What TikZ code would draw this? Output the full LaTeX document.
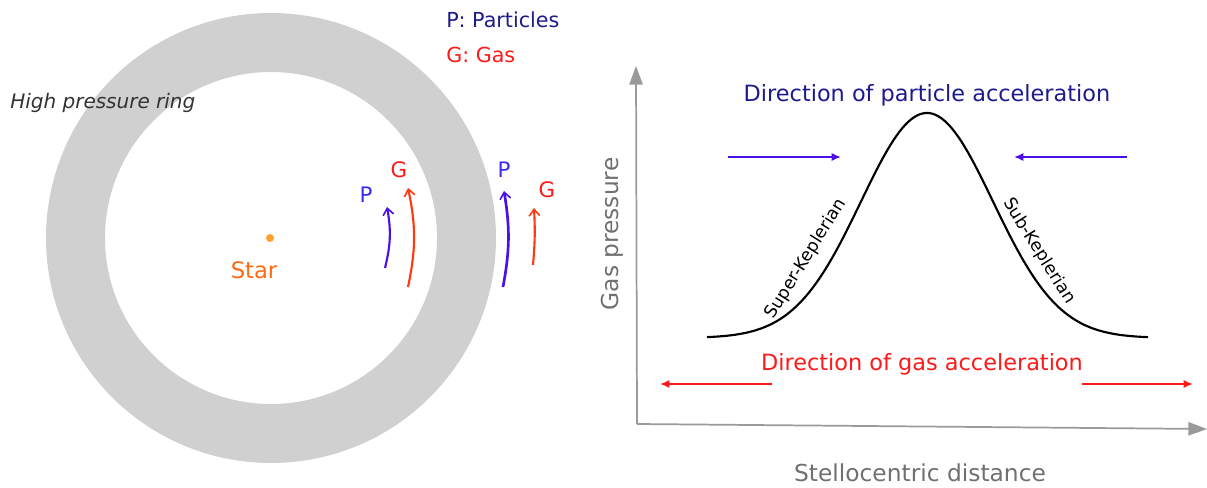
\documentclass[tikz,border=0pt]{standalone}
\usepackage{fontspec}
\setmainfont{DejaVu Sans}
\usetikzlibrary{arrows.meta}
\definecolor{ringgray}{HTML}{D0D0D0}
\definecolor{navy}{HTML}{1E1A8C}
\definecolor{pblue}{HTML}{3A2CF0}
\definecolor{ablue}{HTML}{4A10E8}
\definecolor{gred}{HTML}{FF1A1A}
\definecolor{ared}{HTML}{FF3A10}
\definecolor{starorange}{HTML}{FF6A10}
\definecolor{dotorange}{HTML}{FFA030}
\definecolor{axisgray}{HTML}{9A9A9A}
\definecolor{labelgray}{HTML}{707070}
\definecolor{ringtext}{HTML}{333333}
\tikzset{
  lbl/.style={inner sep=0pt, font=\fontsize{#1}{#1}\selectfont},
  curvearrow/.style={line width=1.6pt, -{Straight Barb[length=5pt,width=8pt,line width=1.2pt]}},
  flatarrow/.style={line width=1.2pt, -{Latex[length=7pt,width=6pt]}},
  axisline/.style={axisgray, line width=1.3pt, -{Triangle[length=14pt,width=10pt]}},
}
\begin{document}
\begin{tikzpicture}[x=0.75pt,y=-0.75pt]
\useasboundingbox (0,0) rectangle (1207,488);
% ring
\fill[ringgray, even odd rule] (271,238) circle[radius=225] (271,238) circle[radius=166];
\fill[dotorange] (270,238) circle[radius=4];
\node[lbl=17, text=starorange] (star) at (254,270) {Star};
\node[lbl=15, text=ringtext, anchor=west, font=\fontsize{15}{15}\selectfont\itshape] (ring) at (10,103) {High pressure ring};
\node[lbl=15.5, text=navy, anchor=west] (legP) at (446,20) {P: Particles};
\node[lbl=15.5, text=gred, anchor=west] (legG) at (446,55) {G: Gas};
% inner arrows
\coordinate (ibs) at (385,268); \coordinate (ibe) at (387,207);
\coordinate (irs) at (408,287); \coordinate (ire) at (408,188);
\coordinate (obs) at (503,287); \coordinate (obe) at (504,191);
\coordinate (ors) at (533,265); \coordinate (ore) at (534,208);
\draw[curvearrow, ablue] (ibs) to[bend right=12] (ibe);
\draw[curvearrow, ared] (irs) to[bend right=12] (ire);
\draw[curvearrow, ablue, line width=2pt] (obs) to[bend right=10] (obe);
\draw[curvearrow, ared] (ors) to[bend right=4] (ore);
\node[lbl=16, text=pblue] (pin) at (366,195) {P};
\node[lbl=16, text=gred] (gin) at (399,170) {G};
\node[lbl=16, text=pblue] (pout) at (504,170) {P};
\node[lbl=16, text=gred] (gout) at (547,190) {G};
% axes
\coordinate (origin) at (637,424);
\coordinate (ytip) at (636,66);
\coordinate (xtip) at (1207,429);
\draw[axisline] (origin) -- (ytip);
\draw[axisline] (origin) -- (xtip);
\node[lbl=17.5, text=labelgray, rotate=90] (ylab) at (612,234) {Gas pressure};
\node[lbl=17.5, text=labelgray] (xlab) at (920,473) {Stellocentric distance};
% curve
\draw[line width=1.6pt, black] plot[domain=707:1148, samples=150] (\x, {338-225*exp(-0.5*(((\x-927)/66)^2))});
\node[lbl=13, rotate=58] (super) at (806,259) {Super-Keplerian};
\node[lbl=13, rotate=-58] (sub) at (1039,251) {Sub-Keplerian};
% particle acceleration
\node[lbl=16.8, text=navy] (ptitle) at (927,95) {Direction of particle acceleration};
\coordinate (pl1) at (728,157); \coordinate (pl2) at (841,157);
\coordinate (pr1) at (1127,157); \coordinate (pr2) at (1014,157);
\draw[flatarrow, ablue] (pl1) -- (pl2);
\draw[flatarrow, ablue] (pr1) -- (pr2);
% gas acceleration
\node[lbl=16.8, text=gred] (gtitle) at (922,364) {Direction of gas acceleration};
\coordinate (gl1) at (772,384); \coordinate (gl2) at (660,384);
\coordinate (gr1) at (1082,384); \coordinate (gr2) at (1193,384);
\draw[flatarrow, gred] (gl1) -- (gl2);
\draw[flatarrow, gred] (gr1) -- (gr2);
\end{tikzpicture}
\end{document}
